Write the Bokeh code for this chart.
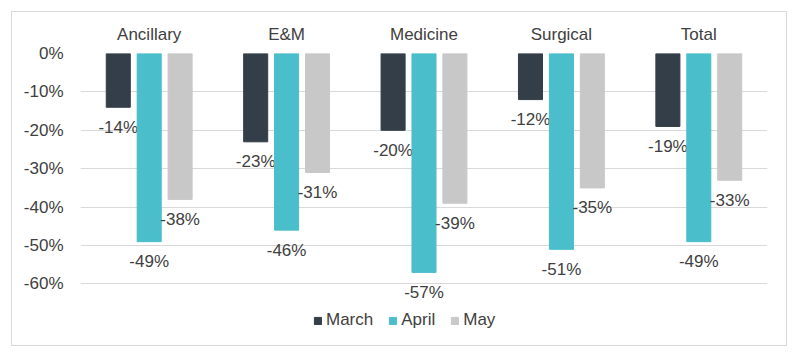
from bokeh.plotting import figure
from bokeh.models import ColumnDataSource, FactorRange, Range1d, FixedTicker, Legend, LegendItem
from bokeh.transform import dodge
from bokeh.core.properties import value
from bokeh.embed import file_html
from bokeh.resources import INLINE

categories = ["Ancillary", "E&M", "Medicine", "Surgical", "Total"]
march = [-14, -23, -20, -12, -19]
april = [-49, -46, -57, -51, -49]
may = [-38, -31, -39, -35, -33]
series_names = ["March", "April", "May"]
colors = ["#343e48", "#4bbecb", "#c8c8c8"]
y_ticks = [0, -10, -20, -30, -40, -50, -60]

FONT = "Liberation Sans"
TXT = "#404040"
FS = "17px"

src = ColumnDataSource(dict(
    cat=categories,
    March=march, April=april, May=may,
    March_lbl=[f"{v}%" for v in march],
    April_lbl=[f"{v}%" for v in april],
    May_lbl=[f"{v}%" for v in may],
))

p = figure(
    width=776, height=335,
    x_range=FactorRange(*categories, range_padding=0.0),
    y_range=Range1d(-75, 0),
    x_axis_location="above",
    output_backend="svg", toolbar_location=None,
    min_border_left=68, min_border_right=21, min_border_top=41, min_border_bottom=6,
)
p.styles = {"border": "1px solid #d9d9d9", "margin-left": "11px", "margin-top": "11px"}
p.outline_line_color = None
p.xgrid.grid_line_color = None
p.ygrid.grid_line_color = "#d9d9d9"
p.ygrid.grid_line_width = 1

offsets = [-0.225, 0.0, 0.225]
items = []
for name, col, off in zip(series_names, colors, offsets):
    r = p.vbar(x=dodge("cat", off, range=p.x_range), top=0, bottom=name, width=0.175,
               source=src, fill_color=col, line_color=col)
    items.append(LegendItem(label=name, renderers=[r]))
    p.text(x=dodge("cat", off, range=p.x_range), y=name, text=name + "_lbl", source=src,
           text_align="center", text_baseline="middle", y_offset=20,
           text_font=value(FONT), text_font_size=FS, text_color=TXT)

xa = p.xaxis[0]
xa.axis_line_color = None
xa.major_tick_line_color = None
xa.minor_tick_line_color = None
xa.major_tick_out = 0
xa.major_label_standoff = 10
xa.major_label_text_font = FONT
xa.major_label_text_font_size = FS
xa.major_label_text_color = TXT

ya = p.yaxis[0]
ya.ticker = FixedTicker(ticks=y_ticks)
ya.major_label_overrides = {t: f"{t}%" for t in y_ticks}
ya.axis_line_color = None
ya.major_tick_line_color = None
ya.minor_tick_line_color = None
ya.major_tick_out = 0
ya.major_label_standoff = 17
ya.major_label_text_font = FONT
ya.major_label_text_font_size = FS
ya.major_label_text_color = TXT
p.ygrid.ticker = FixedTicker(ticks=y_ticks)

legend = Legend(items=items, orientation="horizontal", location=(233, 11),
                border_line_color=None, background_fill_alpha=0,
                glyph_width=9, glyph_height=9, label_standoff=4, spacing=15,
                padding=0, margin=0,
                label_text_font=FONT, label_text_font_size=FS, label_text_color=TXT)
p.add_layout(legend)

open("out.html", "w").write(file_html(p, INLINE))
